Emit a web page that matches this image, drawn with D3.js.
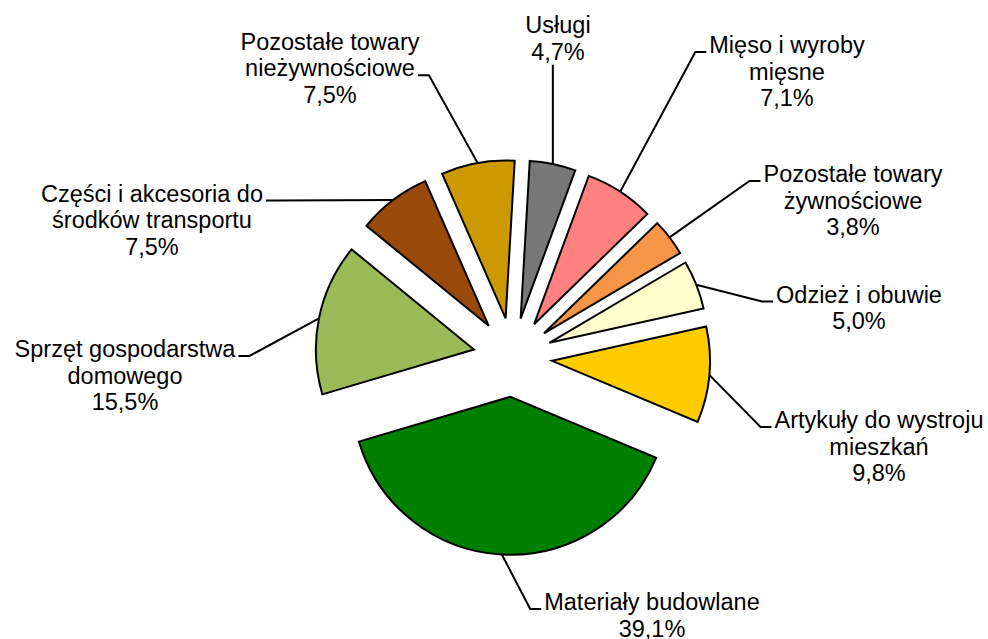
<!DOCTYPE html>
<html>
<head>
<meta charset="utf-8">
<script src="https://cdn.jsdelivr.net/npm/d3@7"></script>
<style>
  html, body { margin: 0; padding: 0; background: #fff; }
  text { font-family: "Liberation Sans", Arial, sans-serif; font-size: 23.5px; fill: #000; }
</style>
</head>
<body>
<div id="chart"></div>
<script>
// data
const categories = [
  "Usługi",
  "Mięso i wyroby mięsne",
  "Pozostałe towary żywnościowe",
  "Odzież i obuwie",
  "Artykuły do wystroju mieszkań",
  "Materiały budowlane",
  "Sprzęt gospodarstwa domowego",
  "Części i akcesoria do środków transportu",
  "Pozostałe towary nieżywnościowe"
];
const values = [4.7, 7.1, 3.8, 5.0, 9.8, 39.1, 15.5, 7.5, 7.5];
const labelLines = [
  ["Usługi"],
  ["Mięso i wyroby", "mięsne"],
  ["Pozostałe towary", "żywnościowe"],
  ["Odzież i obuwie"],
  ["Artykuły do wystroju", "mieszkań"],
  ["Materiały budowlane"],
  ["Sprzęt gospodarstwa", "domowego"],
  ["Części i akcesoria do", "środków transportu"],
  ["Pozostałe towary", "nieżywnościowe"]
];
const colors = ["#777777", "#FF8080", "#F79646", "#FFFFCC", "#FFCC00",
                "#008000", "#9BBB59", "#994A0A", "#CC9900"];

// label layout: centre x, first baseline y, which side of the text the leader leaves, line it leaves from
const labelLayout = [
  {x: 558, y: 33, side: "bottom", row: 1},
  {x: 787, y: 53, side: "right", row: 0},
  {x: 853, y: 182, side: "right", row: 0},
  {x: 859, y: 302.5, side: "right", row: 0},
  {x: 879, y: 428, side: "right", row: 0},
  {x: 652, y: 610, side: "right", row: 0},
  {x: 125, y: 357, side: "left", row: 0},
  {x: 152, y: 201.5, side: "left", row: 0},
  {x: 330, y: 49.5, side: "left", row: 1}
];

const width = 988, height = 639;
const cx = 512.6, cy = 357.3;
const radius = 158, explode = 39.5;
const lineH = 26.7;
const startDeg = 3.3;

const svg = d3.select("#chart").append("svg")
  .attr("width", width)
  .attr("height", height);

const pie = d3.pie()
  .sort(null)
  .value(d => d)
  .startAngle(startDeg * Math.PI / 180)
  .endAngle(startDeg * Math.PI / 180 + 2 * Math.PI);

const arc = d3.arc().innerRadius(0).outerRadius(radius);
const arcs = pie(values);

const g = svg.append("g").attr("transform", `translate(${cx},${cy})`);

function dir(a) { return [Math.sin(a), -Math.cos(a)]; }

g.selectAll("path.slice")
  .data(arcs)
  .enter().append("path")
  .attr("class", "slice")
  .attr("d", arc)
  .attr("fill", (d, i) => colors[i])
  .attr("stroke", "#000")
  .attr("stroke-width", 2)
  .attr("stroke-linejoin", "miter")
  .attr("transform", d => {
    let m = (d.startAngle + d.endAngle) / 2, v = dir(m);
    return `translate(${v[0] * explode},${v[1] * explode})`;
  });

const fmt = v => v.toFixed(1).replace(".", ",") + "%";

const labels = svg.append("g");

arcs.forEach((d, i) => {
  let L = labelLayout[i];
  let lines = labelLines[i].concat([fmt(values[i])]);

  let t = labels.append("text")
    .attr("text-anchor", "middle")
    .attr("x", L.x)
    .attr("y", L.y);
  lines.forEach((s, k) => {
    t.append("tspan").attr("x", L.x).attr("y", L.y + k * lineH).text(s);
  });

  // leader line
  let m = (d.startAngle + d.endAngle) / 2, v = dir(m);
  let px = cx + v[0] * (radius + explode), py = cy + v[1] * (radius + explode);
  let w = t.selectAll("tspan").nodes()[L.row].getComputedTextLength();
  let ly = L.y + L.row * lineH - 1;
  let pts;
  if (L.side == "right") {
    let x0 = L.x - w / 2 - 3;
    pts = [[x0, ly], [x0 - 11, ly], [px, py]];
  } else if (L.side == "left") {
    let x0 = L.x + w / 2 + 3;
    pts = [[x0, ly], [x0 + 11, ly], [px, py]];
  } else {
    pts = [[px, ly + 6], [px, py]];
  }
  labels.append("path")
    .attr("d", d3.line()(pts))
    .attr("fill", "none")
    .attr("stroke", "#000")
    .attr("stroke-width", 2);
});
</script>
</body>
</html>
